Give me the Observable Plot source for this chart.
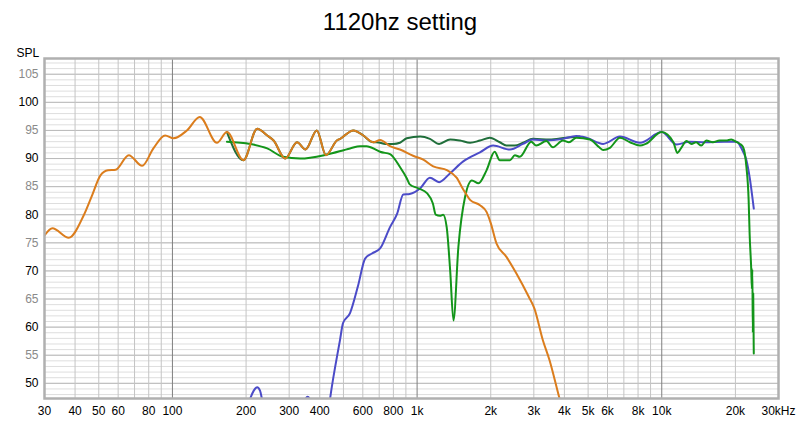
<!DOCTYPE html>
<html>
<head>
<meta charset="utf-8">
<script src="https://cdn.jsdelivr.net/npm/d3@7"></script>
<script src="https://cdn.jsdelivr.net/npm/@observablehq/plot@0.6"></script>
<style>
  html, body { margin: 0; padding: 0; background: #fff; }
  #title { height: 40px; line-height: 44px; text-align: center; font-family: "Liberation Sans", Arial, sans-serif; font-size: 24px; color: #000; }
</style>
</head>
<body>
<div id="title">1120hz setting</div>
<div id="chart"></div>
<script>
// ---- Data (frequency Hz, SPL dB) ----
const woofer = [
  [30,76.3],[32.3,77.6],[37.7,75.9],[43.4,79.9],[47,83.5],[50.8,87.0],[54.5,87.9],[58.6,88.0],
  [66.3,90.6],[75.2,88.7],[83.6,91.8],[93.4,94.1],[101,93.6],[114.6,95.0],[129.3,97.4],[152,92.8],
  [167,94.7],[195,89.7],[222,95.3],[244,94.1],[259,93.2],[289,90.0],[323,92.9],[350,91.6],
  [389,95.0],[424,90.6],[470,93.2],[485,93.5],[549,95.0],[603,94.1],[663,92.9],[706,93.3],
  [775,92.2],[851,91.6],[963,90.5],[1060,89.8],[1164,88.6],[1330,87.9],[1450,86.6],[1544,84.5],
  [1650,82.6],[1807,81.7],[1922,80.5],[2000,78.5],[2110,74.9],[2318,72.5],[2550,69.5],[2860,65.4],
  [3017,63.3],[3264,57.7],[3478,54.1],[3820,47.3],[3950,45]
];
const tweeter = [
  [190,40],[208,47.3],[215,48.7],[222,49.3],[228,48.7],[232,47.3],[245,40],[330,40],[350,47.2],
  [357,47.6],[364,47.2],[380,40],[420,40],[441,47.3],[484,57.7],[498,60.7],[532,62.5],[574,67.4],
  [613,72.2],[654,73.1],[706,74.0],[775,77.8],[829,80.2],[878,83.6],[933,83.7],[1030,84.7],
  [1128,86.6],[1230,85.8],[1365,87.4],[1544,89.5],[1807,91.1],[2046,92.3],[2397,91.6],[2709,92.6],
  [2974,93.4],[3378,93.2],[3943,93.5],[4477,94.0],[4917,93.7],[5760,92.6],[6747,93.9],[8148,92.8],
  [9994,94.7],[11502,92.5],[12975,93.0],[15000,92.9],[18000,93.0],[20268,93.0],[20880,92.3],
  [21510,91.2],[22180,89.7],[22860,86.7],[23775,81.1]
];
const sumReversed = [
  [167,93.0],[208,92.6],[244,91.8],[283,90.3],[333,90.0],[427,90.7],[532,91.8],[585,92.2],[621,92.2],
  [684,91.5],[706,91.2],[775,90.8],[851,88.5],[907,86.5],[933,85.4],[1012,84.7],[1100,83.8],[1160,82.0],
  [1192,80.0],[1240,79.8],[1278,80.0],[1321,77.8],[1365,70.1],[1408,61.2],[1475,74.3],[1571,83.2],
  [1675,86.1],[1782,85.6],[1922,87.9],[2075,91.2],[2178,89.7],[2397,89.7],[2509,90.6],[2628,90.3],
  [2928,93.0],[3066,92.3],[3378,93.1],[3589,92.0],[3943,93.2],[4175,92.9],[4477,93.7],[5088,93.4],
  [5552,92.0],[5760,91.5],[6138,91.9],[6747,93.7],[7413,92.9],[8148,92.3],[8600,92.6],[9994,94.7],
  [11157,92.9],[11575,91.0],[12054,92.0],[12627,93.1],[13230,92.6],[13800,92.9],[14514,92.3],
  [15206,93.2],[16176,92.9],[17220,93.2],[18330,93.2],[19220,93.4],[20268,92.9],[20880,92.6],
  [21510,92.0],[22180,88.5],[22650,82.6],[22860,76.6],[23220,70.1],[23350,66.8],[23450,70.3],
  [23560,59.0],[23650,66.0],[23775,55.3]
];
const sumNormal = [
  [167,94.7],[195,89.7],[222,95.3],[244,94.1],[259,93.2],[289,90.0],[323,92.9],[350,91.6],
  [389,95.0],[424,90.6],[470,93.2],[485,93.5],[549,95.0],[603,94.1],[650,93.0],[706,92.8],
  [740,92.6],[799,92.6],[851,92.8],[907,93.6],[1030,93.9],[1128,93.5],[1230,92.6],[1365,93.4],
  [1497,93.2],[1647,92.8],[1807,93.2],[1983,93.7],[2178,92.9],[2318,92.3],[2509,92.3],[2709,92.8],
  [2974,93.5],[3478,93.4],[4060,93.7],[4617,93.9]
];

// ---- Axis ticks and grid ----
const xTickValues = [30,40,50,60,80,100,200,300,400,600,800,1000,2000,3000,4000,5000,6000,8000,10000,20000,30000];
const xTickLabels = ["30","40","50","60","80","100","200","300","400","600","800","1k","2k","3k","4k","5k","6k","8k","10k","20k","30kHz"];
const xMinorGrid = [40,50,60,70,80,90,200,300,400,500,600,700,800,900,2000,3000,4000,5000,6000,7000,8000,9000,20000];
const xDecadeGrid = [100,1000,10000];
const yMajorBlack = [50,60,70,80,90,100];
const yMajorGray = [55,65,75,85,95,105];
const yMinorGrid = d3.range(48,108);
const yMajorGrid = [50,55,60,65,70,75,80,85,90,95,100,105];

const lineOpts = {x: d => d[0], y: d => d[1], strokeWidth: 2, curve: "monotone-x", clip: true};

const chart = Plot.plot({
  width: 800,
  height: 382,
  marginTop: 18,
  marginBottom: 24,
  marginLeft: 44,
  marginRight: 22,
  style: {fontFamily: "Liberation Sans, Arial, sans-serif", fontSize: "12px", background: "#fff"},
  x: {type: "log", domain: [30, 30000], axis: null},
  y: {domain: [47.3, 107.8]},
  marks: [
    Plot.ruleY(yMinorGrid, {stroke: "#dedede", strokeWidth: 1}),
    Plot.ruleY(yMajorGrid, {stroke: "#bababa", strokeWidth: 1}),
    Plot.ruleX(xMinorGrid, {stroke: "#c4c4c4", strokeWidth: 1}),
    Plot.ruleX(xDecadeGrid, {stroke: "#7f7f7f", strokeWidth: 1}),
    Plot.line(sumNormal, {...lineOpts, stroke: "#1f6e3a"}),
    Plot.line(tweeter, {...lineOpts, stroke: "#4b4bc8"}),
    Plot.line(sumReversed, {...lineOpts, stroke: "#13951a"}),
    Plot.line(woofer, {...lineOpts, stroke: "#db7d1d"}),
    Plot.frame({stroke: "#b0b0b0", strokeWidth: 2.5}),
    Plot.text(xTickValues, {x: d => d, frameAnchor: "bottom", dy: 13, lineAnchor: "middle",
      text: (d, i) => xTickLabels[i], fill: "#000", fontSize: 12}),
    Plot.axisY({ticks: yMajorBlack, tickSize: 0, tickPadding: 6, label: null, fill: "#000", fontSize: 12}),
    Plot.axisY({ticks: yMajorGray, tickSize: 0, tickPadding: 6, label: null, fill: "#8a8a8a", fontSize: 12}),
    Plot.text(["SPL"], {frameAnchor: "top-left", dx: -28, dy: -10, textAnchor: "start", fill: "#000", fontSize: 12})
  ]
});
document.getElementById("chart").appendChild(chart);
</script>
</body>
</html>
